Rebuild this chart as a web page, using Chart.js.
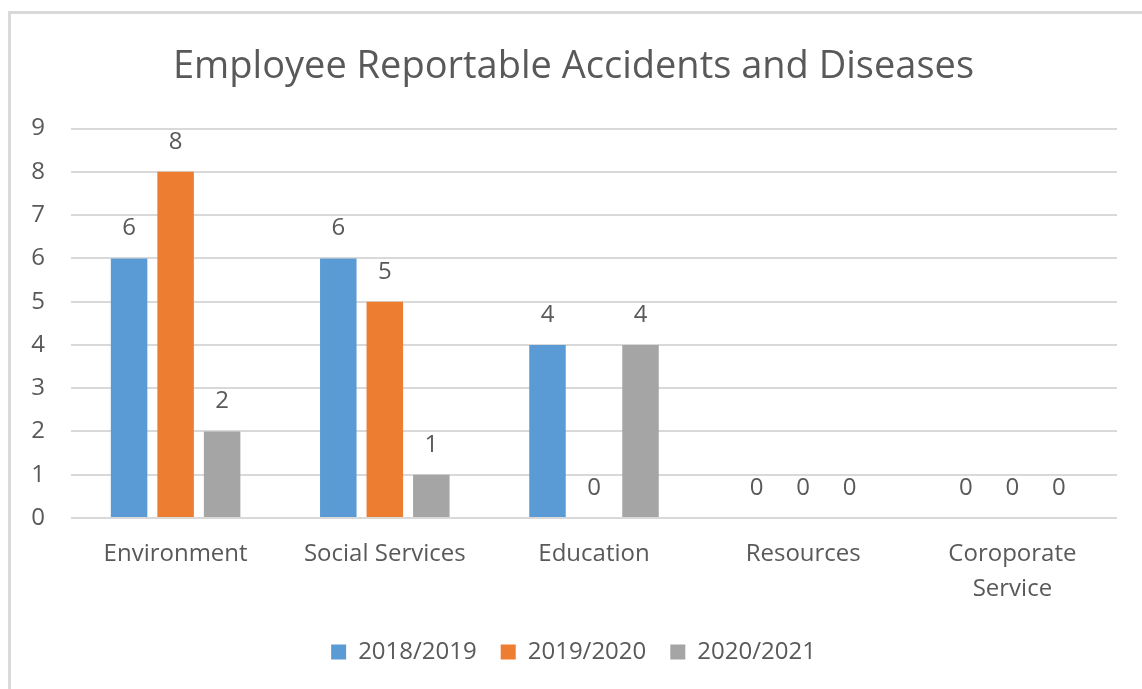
<!DOCTYPE html>
<html>
<head>
<meta charset="utf-8">
<script src="https://cdn.jsdelivr.net/npm/chart.js@4"></script>
<style>
  html, body { margin: 0; padding: 0; background: #fff; overflow: hidden; }
  .frame {
    position: absolute; left: 8px; top: 11px;
    width: 1300px; height: 800px;
    border: 3px solid #d9d9d9;
  }
  .wrap { position: absolute; left: 0; top: 0; width: 1142px; height: 689px; }
</style>
</head>
<body>
<div class="frame"></div>
<div class="wrap"><canvas id="chart"></canvas></div>
<script>
// chart data
const categories = ['Environment', 'Social Services', 'Education', 'Resources', ['Coroporate', 'Service']];
const seriesNames = ['2018/2019', '2019/2020', '2020/2021'];
const values2018 = [6, 6, 4, 0, 0];
const values2019 = [8, 5, 0, 0, 0];
const values2020 = [2, 1, 4, 0, 0];
const yTicks = [0, 1, 2, 3, 4, 5, 6, 7, 8, 9];

const textColor = '#595959';
const fontFamily = "'Open Sans', sans-serif";

// labels above each bar, like excel data labels
const barLabels = {
  id: 'barLabels',
  afterDatasetsDraw(chart) {
    const ctx = chart.ctx;
    ctx.save();
    ctx.font = '24px ' + fontFamily;
    ctx.fillStyle = textColor;
    ctx.textAlign = 'center';
    ctx.textBaseline = 'middle';
    chart.data.datasets.forEach((ds, i) => {
      const meta = chart.getDatasetMeta(i);
      meta.data.forEach((bar, j) => {
        ctx.fillText(String(ds.data[j]), bar.x, bar.y - 30);
      });
    });
    ctx.restore();
  }
};

const ctx = document.getElementById('chart').getContext('2d');
new Chart(ctx, {
  type: 'bar',
  data: {
    labels: categories,
    datasets: [
      { label: seriesNames[0], data: values2018, backgroundColor: '#5b9bd5' },
      { label: seriesNames[1], data: values2019, backgroundColor: '#ed7d31' },
      { label: seriesNames[2], data: values2020, backgroundColor: '#a5a5a5' },
    ],
  },
  options: {
    responsive: true,
    maintainAspectRatio: false,
    animation: false,
    datasets: {
      bar: { barPercentage: 0.785, categoryPercentage: 0.667 },
    },
    // left padding nudges title and legend right, as in the original
    layout: { padding: { left: 30, right: 25, top: 0, bottom: 15 } },
    plugins: {
      tooltip: { enabled: false },
      title: {
        display: true,
        text: 'Employee Reportable Accidents and Diseases',
        color: textColor,
        font: { family: fontFamily, size: 38, weight: 'normal', lineHeight: 1.2 },
        padding: { top: 44, bottom: 39 },
      },
      legend: {
        position: 'bottom',
        labels: {
          color: textColor,
          font: { family: fontFamily, size: 24 },
          boxWidth: 15,
          boxHeight: 15,
          padding: 24,
        },
      },
    },
    scales: {
      x: {
        grid: { display: false },
        border: { display: false },
        ticks: {
          color: textColor,
          font: { family: fontFamily, size: 24, lineHeight: 1.45 },
          padding: 11,
          maxRotation: 0,
          autoSkip: false,
        },
        afterFit(scale) { scale.height = 98; },
      },
      y: {
        min: 0,
        max: 9,
        afterBuildTicks(scale) { scale.ticks = yTicks.map(v => ({ value: v })); },
        grid: { color: '#d9d9d9', lineWidth: 2, drawTicks: false },
        border: { display: false },
        ticks: {
          color: textColor,
          font: { family: fontFamily, size: 24 },
          padding: 26,
        },
        afterFit(scale) { scale.width = 41; },
      },
    },
  },
  plugins: [barLabels],
});
</script>
</body>
</html>
